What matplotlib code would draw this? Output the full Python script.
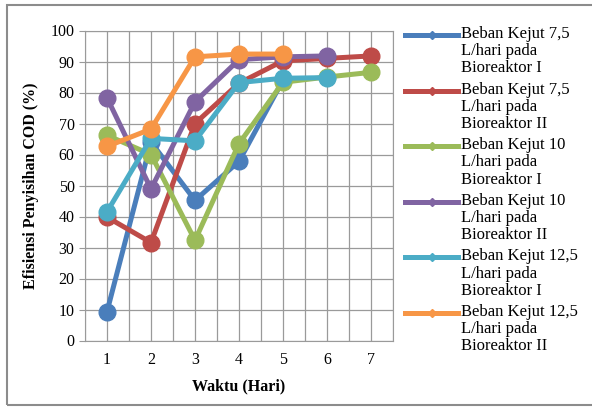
import matplotlib.pyplot as plt
from matplotlib.lines import Line2D
from matplotlib.patches import Rectangle

# Data (days 1-7, series end where the markers stop)
days = [1, 2, 3, 4, 5, 6, 7]
blue_75_I = [9.3, 64.0, 45.2, 57.8, 84.0]
red_75_II = [39.8, 31.6, 70.0, 83.0, 90.2, 91.0, 91.8]
green_10_I = [66.2, 60.0, 32.3, 63.5, 83.3, 85.0, 86.5]
purple_10_II = [78.3, 48.9, 77.0, 90.6, 91.5, 91.8]
teal_125_I = [41.5, 65.2, 64.4, 83.2, 84.6, 84.8]
orange_125_II = [62.6, 68.2, 91.5, 92.4, 92.4]

labels = ['Beban Kejut 7,5\nL/hari pada\nBioreaktor I',
          'Beban Kejut 7,5\nL/hari pada\nBioreaktor II',
          'Beban Kejut 10\nL/hari pada\nBioreaktor I',
          'Beban Kejut 10\nL/hari pada\nBioreaktor II',
          'Beban Kejut 12,5\nL/hari pada\nBioreaktor I',
          'Beban Kejut 12,5\nL/hari pada\nBioreaktor II']
colors = ['#4A7EBB', '#BE4B48', '#9BBB59', '#8064A2', '#4BACC6', '#F79646']
series = [blue_75_I, red_75_II, green_10_I, purple_10_II, teal_125_I, orange_125_II]

plt.rcParams['font.family'] = ['Liberation Serif', 'DejaVu Serif']

W, H = 592, 412
fig = plt.figure(figsize=(W / 100, H / 100), dpi=100)
ax = fig.add_axes([85 / W, 1 - 340.5 / H, 308 / W, 310 / H])

for vals, col in zip(series, colors):
    ax.plot(days[:len(vals)], vals, color=col, lw=3.6, marker='o', ms=12,
            solid_capstyle='round')

ax.set_xlim(0.5, 7.5)
ax.set_ylim(0, 100)
ax.set_yticks(range(0, 101, 10))
ax.set_xticks(days)
ax.set_xticks([d + 0.5 for d in range(0, 8)], minor=True)
ax.grid(True, which='both', color='#9a9a9a', lw=0.9)
ax.set_axisbelow(True)
ax.tick_params(axis='both', labelsize=11.5, color='#9a9a9a', length=4)
ax.tick_params(axis='x', which='both', length=0, pad=8)
for s in ax.spines.values():
    s.set_color('#9a9a9a')

ax.set_xlabel('Waktu (Hari)', fontsize=11.5, fontweight='bold', labelpad=8)
ax.set_ylabel('Efisiensi Penyisihan COD (%)', fontsize=11.5, fontweight='bold', labelpad=8)

# legend drawn by hand so the line sits beside the first text line
for i, (lab, col) in enumerate(zip(labels, colors)):
    y = 1 - (35 + i * 55.6) / H
    fig.add_artist(Line2D([405 / W, 458 / W], [y, y], transform=fig.transFigure,
                          color=col, lw=3.6))
    fig.add_artist(Line2D([431.5 / W], [y], transform=fig.transFigure,
                          color=col, marker='D', ms=4, lw=0))
    fig.text(461 / W, y + 9 / H, lab, fontsize=12, va='top', ha='left',
             linespacing=1.1)

# outer chart border
fig.patches.append(Rectangle((7 / W, 7 / H), 600 / W, 400 / H, transform=fig.transFigure,
                             fill=False, edgecolor='#8c8c8c', lw=1.5))

fig.savefig('out.png', dpi=100)
